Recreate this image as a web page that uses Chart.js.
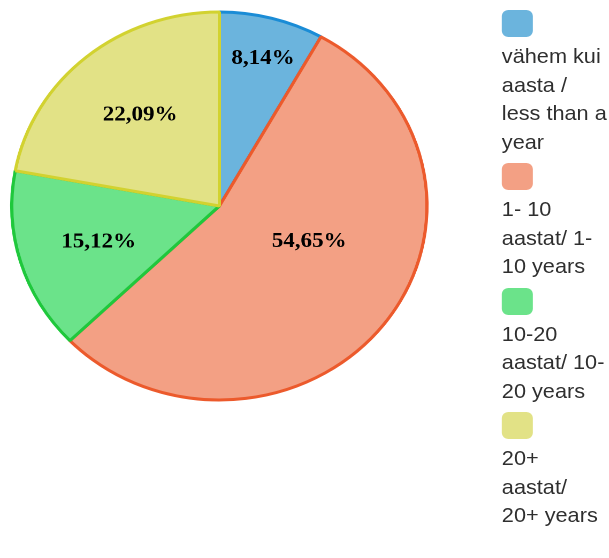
<!DOCTYPE html>
<html>
<head>
<meta charset="utf-8">
<script src="https://cdn.jsdelivr.net/npm/chart.js@4/dist/chart.umd.min.js"></script>
<style>
  html, body { margin: 0; background: #fff; overflow: hidden; }
  /* the reference is stretched a little sideways, so the whole stage is too */
  #stage { position: absolute; left: 0; top: 0; width: 569px; height: 558px; transform: scaleX(1.07); transform-origin: 0 0; }
  #pie-wrap { position: absolute; left: 0; top: 0; width: 410px; height: 412px; }
  #legend { position: absolute; left: 469px; top: 10px; width: 100px; font: 20.3px "Liberation Sans", Arial, sans-serif; line-height: 28.5px; color: #2f2f2f; }
  #legend .item { margin-bottom: 7px; }
  #legend .box { width: 29px; height: 27px; border-radius: 6px; margin-bottom: 5px; }
</style>
</head>
<body>
<div id="stage">
  <div id="pie-wrap"><canvas id="tenure-pie"></canvas></div>
  <div id="legend"></div>
</div>
<script>
// categories (legend lines as shown) and the share of each, in %
const categories = [
  ["vähem kui", "aasta /", "less than a", "year"],
  ["1- 10", "aastat/ 1-", "10 years"],
  ["10-20", "aastat/ 10-", "20 years"],
  ["20+", "aastat/", "20+ years"],
];
const shares = [8.14, 54.65, 15.12, 22.09];

const fills = ["#6bb4dd", "#f3a084", "#6be38a", "#e2e286"];
const borders = ["#1a8cd6", "#ec5a2c", "#1fc83c", "#d2d230"];

// where each percent label sits: [fraction of radius, angle shift in deg]
const labelPlace = [[0.79, 0.8], [0.47, -14.7], [0.61, -0.9], [0.605, 0.6]];

const pct = (v) => v.toFixed(2).replace(".", ",") + "%";

const sliceLabels = {
  id: "sliceLabels",
  afterDatasetsDraw(chart) {
    const { ctx } = chart;
    const meta = chart.getDatasetMeta(0);
    ctx.save();
    ctx.font = "bold 21.5px 'Liberation Serif', 'Times New Roman', serif";
    ctx.fillStyle = "#000";
    ctx.textAlign = "center";
    ctx.textBaseline = "middle";
    meta.data.forEach((arc, i) => {
      const { x, y, startAngle, endAngle, outerRadius } = arc.getProps(
        ["x", "y", "startAngle", "endAngle", "outerRadius"], true);
      const [frac, shift] = labelPlace[i];
      const a = (startAngle + endAngle) / 2 + (shift * Math.PI) / 180;
      const r = outerRadius * frac;
      ctx.fillText(pct(shares[i]), x + Math.cos(a) * r, y + Math.sin(a) * r);
    });
    ctx.restore();
  },
};

new Chart(document.getElementById("tenure-pie"), {
  type: "pie",
  data: {
    labels: categories.map((c) => c.join(" ")),
    datasets: [{
      data: shares,
      backgroundColor: fills,
      borderColor: borders,
      borderWidth: 3,
    }],
  },
  options: {
    responsive: true,
    maintainAspectRatio: false,
    animation: false,
    devicePixelRatio: 2,
    radius: 194,
    layout: { padding: 0 },
    plugins: {
      legend: { display: false },
      tooltip: { enabled: false },
    },
  },
  plugins: [sliceLabels],
});

// html legend: colour box above the wrapped label
const legend = document.getElementById("legend");
categories.forEach((lines, i) => {
  const item = document.createElement("div");
  item.className = "item";
  const box = document.createElement("div");
  box.className = "box";
  box.style.background = fills[i];
  item.appendChild(box);
  lines.forEach((t) => {
    const line = document.createElement("div");
    line.textContent = t;
    line.style.whiteSpace = "nowrap";
    item.appendChild(line);
  });
  legend.appendChild(item);
});
</script>
</body>
</html>
